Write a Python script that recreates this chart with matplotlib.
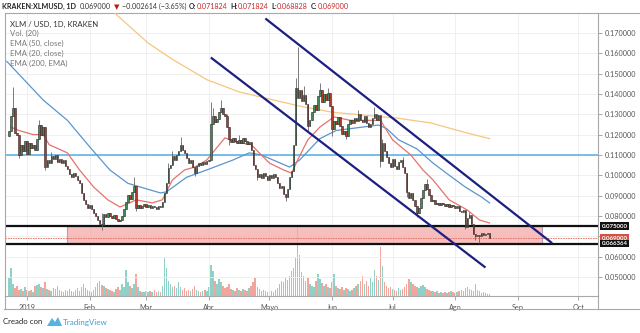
import numpy as np
import pandas as pd
import matplotlib
matplotlib.use('Agg')
import matplotlib.pyplot as plt
from matplotlib.patches import Rectangle, Polygon
from matplotlib.lines import Line2D
from matplotlib.transforms import blended_transform_factory

plt.rcParams['font.family'] = ['Lato', 'DejaVu Sans']

## Data (daily XLM/USD, Kraken) ##
first_day = '2018-12-23'
first_open = 0.1195
closes = [
    0.1220, 0.1290, 0.1330, 0.1210, 0.1200, 0.1100, 0.1150, 0.1120, 0.1170, 0.1105,
    0.1160, 0.1135, 0.1150, 0.1125, 0.1180, 0.1245, 0.1200, 0.1235, 0.1040, 0.1075,
    0.1060, 0.1095, 0.1080, 0.1100, 0.1065, 0.1080, 0.1060, 0.1075, 0.1045, 0.1030,
    0.1005, 0.0990, 0.1010, 0.0995, 0.0975, 0.0960, 0.0915, 0.0880, 0.0860, 0.0840,
    0.0855, 0.0835, 0.0815, 0.0800, 0.0780, 0.0760, 0.0755, 0.0810, 0.0795, 0.0815,
    0.0800, 0.0790, 0.0805, 0.0785, 0.0775, 0.0780, 0.0800, 0.0835, 0.0870, 0.0905,
    0.0885, 0.0920, 0.0945, 0.0840, 0.0855, 0.0840, 0.0850, 0.0860, 0.0845, 0.0855,
    0.0840, 0.0850, 0.0845, 0.0835, 0.0850, 0.0845, 0.0870, 0.0915, 0.0960, 0.1035,
    0.1050, 0.1095, 0.1075, 0.1100, 0.1120, 0.1150, 0.1125, 0.1110, 0.1085, 0.1060,
    0.1075, 0.1040, 0.1010, 0.1045, 0.1060, 0.1050, 0.1065, 0.1055, 0.1070, 0.1075,
    0.1250, 0.1290, 0.1260, 0.1275, 0.1310, 0.1330, 0.1300, 0.1290, 0.1235, 0.1180,
    0.1165, 0.1185, 0.1170, 0.1160, 0.1175, 0.1160, 0.1185, 0.1170, 0.1155, 0.1165,
    0.1125, 0.1050, 0.1030, 0.0990, 0.1005, 0.0985, 0.1010, 0.0995, 0.0975, 0.1000,
    0.0985, 0.1005, 0.0990, 0.0960, 0.0935, 0.0945, 0.0910, 0.0895, 0.0930, 0.0990,
    0.1020, 0.1150, 0.1430, 0.1380, 0.1420, 0.1365, 0.1395, 0.1350, 0.1240, 0.1270,
    0.1310, 0.1345, 0.1320, 0.1390, 0.1420, 0.1360, 0.1400, 0.1370, 0.1405, 0.1340,
    0.1225, 0.1265, 0.1250, 0.1285, 0.1240, 0.1205, 0.1220, 0.1195, 0.1250, 0.1270,
    0.1255, 0.1280, 0.1265, 0.1300, 0.1270, 0.1260, 0.1290, 0.1255, 0.1235, 0.1250,
    0.1280, 0.1300, 0.1270, 0.1295, 0.1070, 0.1160, 0.1120, 0.1090, 0.1060, 0.1040,
    0.1080, 0.1045, 0.1030, 0.1065, 0.1075, 0.1040, 0.1010, 0.0920, 0.0890, 0.0915,
    0.0880, 0.0850, 0.0815, 0.0840, 0.0890, 0.0925, 0.0955, 0.0930, 0.0905, 0.0875,
    0.0880, 0.0860, 0.0865, 0.0855, 0.0865, 0.0860, 0.0850, 0.0858, 0.0845, 0.0855,
    0.0850, 0.0840, 0.0850, 0.0825, 0.0820, 0.0830, 0.0745, 0.0790, 0.0805, 0.0760,
    0.0710, 0.0700, 0.0705, 0.0700, 0.0715, 0.0708, 0.0712, 0.0718, 0.0690,
]
volumes = [
    18, 28, 12, 8, 10, 6, 7, 5, 9, 6,
    5, 6, 4, 10, 11, 12, 9, 8, 14, 7,
    6, 5, 8, 7, 10, 6, 5, 4, 6, 5,
    7, 5, 4, 6, 8, 5, 9, 12, 8, 6,
    5, 4, 6, 9, 13, 15, 11, 10, 8, 7,
    6, 5, 4, 7, 9, 6, 12, 9, 26, 14,
    10, 8, 12, 22, 9, 5, 4, 4, 5, 4,
    5, 4, 6, 4, 5, 4, 10, 38, 28, 15,
    12, 9, 10, 8, 14, 9, 6, 8, 5, 6,
    5, 7, 10, 6, 5, 4, 5, 6, 5, 9,
    31, 25, 15, 12, 17, 14, 10, 8, 9, 12,
    7, 6, 5, 8, 6, 5, 7, 6, 5, 8,
    10, 14, 18, 9, 7, 5, 6, 5, 4, 6,
    5, 4, 6, 8, 12, 15, 14, 18, 16, 20,
    25, 28, 38, 71, 41, 24, 20, 15, 18, 12,
    10, 9, 15, 22, 17, 13, 10, 12, 9, 8,
    14, 22, 10, 8, 7, 9, 6, 8, 7, 5,
    6, 8, 10, 12, 15, 20, 12, 15, 10, 18,
    14, 26, 20, 16, 49, 30, 14, 10, 8, 9,
    7, 6, 5, 8, 6, 7, 9, 12, 17, 14,
    12, 10, 9, 8, 10, 11, 9, 7, 6, 5,
    5, 4, 5, 3, 4, 3, 4, 3, 4, 5,
    4, 3, 4, 5, 6, 5, 8, 9, 7, 6,
    5, 12, 6, 5, 3, 4, 3, 2, 2,
]
# notable wicks, keyed by day counted from 1 Jan 2019
wick_high = {-7: 0.1435, 6: 0.1270, 12: 0.1115, 37: 0.0812, 53: 0.0990, 70: 0.1060,
             72: 0.1120, 76: 0.1190, 91: 0.1360, 92: 0.1330, 96: 0.1370, 99: 0.1300,
             105: 0.1200, 133: 0.1480, 134: 0.1630, 137: 0.1440, 145: 0.1455,
             149: 0.1430, 164: 0.1320, 172: 0.1335, 176: 0.1180, 186: 0.1090,
             198: 0.0980, 219: 0.0820}
wick_low = {-4: 0.1085, 9: 0.1025, 37: 0.0732, 54: 0.0825, 83: 0.0995, 100: 0.1150,
            114: 0.0975, 128: 0.0875, 139: 0.1215, 151: 0.1195, 158: 0.1180,
            175: 0.1040, 188: 0.0895, 193: 0.0795, 217: 0.0735, 222: 0.0680, 224: 0.0668}

# indicator lines (day, value)
ema20_days = [-8, -4, 3, 8, 11, 20, 26, 33, 40, 46, 50, 54, 62, 67, 72, 78, 83, 89, 93, 98,
              103, 111, 120, 127, 131, 134, 139, 145, 152, 160, 175, 177, 181, 190, 196,
              201, 209, 218, 224, 229]
ema20_vals = [0.1237, 0.122, 0.120, 0.120, 0.115, 0.111, 0.1026, 0.0942, 0.0879, 0.0844,
              0.0860, 0.0879, 0.0864, 0.0879, 0.0977, 0.1026, 0.104, 0.1075, 0.1124, 0.1184,
              0.1164, 0.115, 0.106, 0.1026, 0.101, 0.1075, 0.1174, 0.1237, 0.1287, 0.127,
              0.127, 0.1237, 0.1174, 0.110, 0.1026, 0.0977, 0.0879, 0.0829, 0.078, 0.0765]
ema50_days = [-10, 8, 20, 31, 41, 50, 66, 69, 79, 89, 102, 110, 116, 130, 135, 145, 153,
              174, 178, 184, 193, 201, 209, 217, 225, 229]
ema50_vals = [0.156, 0.137, 0.127, 0.114, 0.1026, 0.096, 0.0913, 0.0918, 0.099, 0.1026,
              0.1075, 0.111, 0.110, 0.104, 0.1075, 0.118, 0.122, 0.1247, 0.123, 0.1174,
              0.113, 0.106, 0.100, 0.0942, 0.0893, 0.0864]
ema200_days = [42, 60, 72, 89, 105, 122, 135, 151, 184, 200, 217, 229]
ema200_vals = [0.181, 0.165, 0.157, 0.147, 0.141, 0.137, 0.134, 0.131, 0.128, 0.1257, 0.121, 0.118]

# drawings
upper_days, upper_vals = [118, 260], [0.1771, 0.0666]
lower_days, lower_vals = [91, 227], [0.1579, 0.0546]
zone_days, zone_vals = [20, 255], [0.066364, 0.075]
hline_blue = 0.110
last_price = 0.069

month_labels = ['2019', 'Feb', 'Mar', 'Abr', 'Mayo', 'Jun', 'Jul', 'Ago', 'Sep', 'Oct']
price_ticks = [0.05, 0.06, 0.07, 0.08, 0.09, 0.10, 0.11, 0.12, 0.13, 0.14, 0.15, 0.16, 0.17]
hidden_ticks = [0.07]  # covered by the last-price label

## Prep ##
jan1 = pd.Timestamp('2019-01-01')
dates = pd.date_range(first_day, periods=len(closes))
x = np.array((dates - jan1).days)
c = np.array(closes)
o = np.array([first_open] + closes[:-1])
hi = np.array([wick_high.get(d, max(a, b)) for d, a, b in zip(x, o, c)])
lo = np.array([wick_low.get(d, min(a, b)) for d, a, b in zip(x, o, c)])
up = c >= o
month_x = np.array((pd.date_range('2019-01-01', periods=10, freq='MS') - jan1).days)

W, H = 640, 333
def fx(px): return px / W
def fy(py): return 1 - py / H

fig = plt.figure(figsize=(6.4, 3.33), dpi=100)
rect = [fx(5), fy(296), fx(598) - fx(5), fy(13) - fy(296)]
axv = fig.add_axes(rect, zorder=0)
ax = fig.add_axes(rect, zorder=1)
ax.patch.set_alpha(0)

# volume
axv.bar(x, volumes, width=0.75, color=np.where(up, '#8fd1c6', '#f3a49b'), linewidth=0)
axv.set_ylim(0, max(volumes) * 4)
axv.set_xlim(-10.9, 282.7)
axv.axis('off')

# grid
ax.set_xlim(-10.9, 282.7)
ax.set_ylim(0.0406, 0.1798)
for m in month_x:
    ax.axvline(m, color='#ececec', lw=0.6, zorder=0)
for p in price_ticks:
    ax.axhline(p, color='#ececec', lw=0.6, zorder=0)

# zone and horizontal lines
ax.add_patch(Rectangle((zone_days[0], zone_vals[0]), zone_days[1] - zone_days[0],
                       zone_vals[1] - zone_vals[0], facecolor='#f5a9a9', alpha=0.75,
                       edgecolor='#9a86b0', lw=0.8, zorder=1))
ax.axhline(zone_vals[1], color='#111111', lw=1.6, zorder=2)
ax.axhline(zone_vals[0], color='#111111', lw=1.6, zorder=2)
ax.axhline(last_price, color='#e06a5e', lw=0.6, ls=(0, (2, 1)), zorder=2)
ax.axhline(hline_blue, color='#62b4e4', lw=1.2, zorder=2)

# EMAs
ax.plot(ema200_days, ema200_vals, color='#f4c77f', lw=0.9, zorder=3)
ax.plot(ema50_days, ema50_vals, color='#5b95cf', lw=0.9, zorder=3)
ax.plot(ema20_days, ema20_vals, color='#e5736b', lw=0.9, zorder=3)

# candles
ax.vlines(x, lo, hi, color='#666666', lw=0.6, zorder=4)
ax.bar(x, np.abs(c - o), bottom=np.minimum(o, c), width=0.7,
       color=np.where(up, '#3f8a57', '#b5392d'), edgecolor='#2a2a2a', linewidth=0.4, zorder=5)

# channel
ax.plot(upper_days, upper_vals, color='#1c1f80', lw=1.6, zorder=6, solid_capstyle='butt')
ax.plot(lower_days, lower_vals, color='#1c1f80', lw=1.6, zorder=6, solid_capstyle='butt')

# axes styling
for s in ax.spines.values():
    s.set_color('#a8a8a8')
    s.set_linewidth(0.8)
ax.yaxis.tick_right()
ax.set_yticks(price_ticks)
ax.set_yticklabels(['' if p in hidden_ticks else '%.6f' % p for p in price_ticks])
ax.set_xticks(month_x)
ax.set_xticklabels(month_labels)
ax.tick_params(axis='y', length=3, width=0.6, color='#999999', pad=2, labelsize=5.2, labelcolor='#555555')
ax.tick_params(axis='x', length=3, width=0.6, color='#999999', pad=3, labelsize=5.2, labelcolor='#555555')

# price labels on the axis
tr = blended_transform_factory(ax.transAxes, ax.transData)
for val, fc in [(zone_vals[1], '#111111'), (last_price, '#cf5443'), (zone_vals[0], '#111111')]:
    ax.text(1.006, val, '%.6f' % val, transform=tr, ha='left', va='center', fontsize=4.4,
            color='white', fontweight='bold', zorder=10, clip_on=False,
            bbox=dict(boxstyle='square,pad=0.22', fc=fc, ec='none'))

# outer frame for the axis strips
for xs, ys in [([fx(598), 1], [fy(13), fy(13)]), ([fx(4), 1], [fy(309), fy(309)]),
               ([fx(598), fx(598)], [fy(296), fy(309)]), ([fx(5), fx(5)], [fy(296), fy(309)])]:
    fig.add_artist(Line2D(xs, ys, color='#a8a8a8', lw=0.8))

# header, laid out piece by piece
hdr = [('KRAKEN:XLMUSD, 1D', 4, 'bold', '#222222'), ('0.069000', 3, 'normal', '#333333'),
       ('\u25BC', 2, 'normal', '#b71c1c'), ('\u22120.002614 (\u22123.65%)', 3, 'normal', '#333333'),
       ('O:', 0, 'bold', '#222222'), ('0.071824', 3, 'normal', '#c62828'),
       ('H:', 0, 'bold', '#222222'), ('0.071824', 3, 'normal', '#c62828'),
       ('L:', 0, 'bold', '#222222'), ('0.068828', 3, 'normal', '#c62828'),
       ('C:', 0, 'bold', '#222222'), ('0.069000', 3, 'normal', '#c62828')]
renderer = fig.canvas.get_renderer()
cur = 2
for txt, gap, fw, col in hdr:
    t = fig.text(fx(cur), fy(6.5), txt, fontsize=5.1, fontweight=fw, color=col, va='center', ha='left')
    cur += t.get_window_extent(renderer=renderer).width + gap

# legend block
fig.text(fx(10), fy(24), 'XLM / USD, 1D, KRAKEN', fontsize=5.6, color='#333333', va='center')
for i, lab in enumerate(['Vol. (20)', 'EMA (50, close)', 'EMA (20, close)', 'EMA (200, EMA)']):
    fig.text(fx(10), fy(33.5 + 10 * i), lab, fontsize=5.6, color='#777777', va='center')

# footer
fig.text(fx(3), fy(322), 'Creado con', fontsize=5.6, color='#222222', va='center')
fig.add_artist(Polygon([(fx(47), fy(326)), (fx(52), fy(318)), (fx(55), fy(322)),
                        (fx(58), fy(317)), (fx(62), fy(326))], closed=True,
                       facecolor='#55b3e0', edgecolor='none'))
fig.text(fx(63), fy(322), 'TradingView', fontsize=5.8, color='#3a9fd6', va='center')

fig.savefig('out.png', dpi=100)
